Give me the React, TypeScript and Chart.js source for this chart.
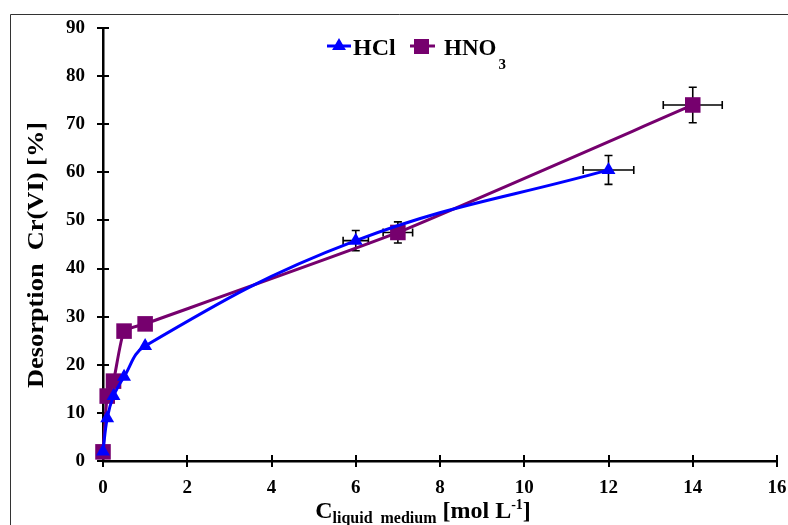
import React, { useEffect, useRef } from "react";
import { Chart, registerables } from "chart.js";

Chart.register(...registerables);

// ---- data ----
const xHCl = [0, 0.1, 0.25, 0.5, 1, 6, 12];
const yHCl = [2, 8.9, 13.5, 17.5, 23.9, 45.8, 60.5];
const xErrHCl = [0, 0, 0, 0, 0, 0.3, 0.6];
const yErrHCl = [0, 0, 0, 0, 0, 2.1, 3];

const xHNO3 = [0, 0.1, 0.25, 0.5, 1, 7, 14];
const yHNO3 = [1.9, 13.5, 16.6, 27, 28.5, 47.5, 74];
const xErrHNO3 = [0, 0, 0, 0, 0, 0.35, 0.7];
const yErrHNO3 = [0, 0, 0, 0, 0, 2.2, 3.7];

const xTicks = [0, 2, 4, 6, 8, 10, 12, 14, 16];
const yTicks = [0, 10, 20, 30, 40, 50, 60, 70, 80, 90];

const seriesNames = ["HCl", "HNO"];
const BLUE = "#0000FF";
const PURPLE = "#76006E";
const SERIF = '"Liberation Serif", "Times New Roman", serif';

const errSets = [
  { xe: xErrHCl, ye: yErrHCl },
  { xe: xErrHNO3, ye: yErrHNO3 },
];

const extras = {
  id: "extras",
  beforeDatasetsDraw(chart: any) {
    const ctx = chart.ctx;
    const xs = chart.scales.x;
    const ys = chart.scales.y;
    const area = chart.chartArea;
    ctx.save();
    // crossing tick marks
    ctx.strokeStyle = "#000";
    ctx.lineWidth = 2;
    ctx.beginPath();
    yTicks.forEach((v) => {
      const py = Math.round(ys.getPixelForValue(v));
      ctx.moveTo(area.left - 6, py);
      ctx.lineTo(area.left + 6, py);
    });
    xTicks.forEach((v) => {
      const px = Math.round(xs.getPixelForValue(v));
      ctx.moveTo(px, area.bottom - 6);
      ctx.lineTo(px, area.bottom + 6);
    });
    ctx.stroke();

    // error bars
    ctx.lineWidth = 1.6;
    chart.data.datasets.forEach((ds: any, di: number) => {
      const e = errSets[di];
      ds.data.forEach((p: any, i: number) => {
        const px = xs.getPixelForValue(p.x);
        const py = ys.getPixelForValue(p.y);
        const cap = 4;
        if (e.xe[i] > 0) {
          const l = xs.getPixelForValue(p.x - e.xe[i]);
          const r = xs.getPixelForValue(p.x + e.xe[i]);
          ctx.beginPath();
          ctx.moveTo(l, py);
          ctx.lineTo(r, py);
          ctx.moveTo(l, py - cap);
          ctx.lineTo(l, py + cap);
          ctx.moveTo(r, py - cap);
          ctx.lineTo(r, py + cap);
          ctx.stroke();
        }
        if (e.ye[i] > 0) {
          const t = ys.getPixelForValue(p.y + e.ye[i]);
          const b = ys.getPixelForValue(p.y - e.ye[i]);
          ctx.beginPath();
          ctx.moveTo(px, t);
          ctx.lineTo(px, b);
          ctx.moveTo(px - cap, t);
          ctx.lineTo(px + cap, t);
          ctx.moveTo(px - cap, b);
          ctx.lineTo(px + cap, b);
          ctx.stroke();
        }
      });
    });
    ctx.restore();
  },
  afterDraw(chart: any) {
    const ctx = chart.ctx;
    ctx.save();
    // outer frame (top and left edges)
    ctx.strokeStyle = "#333";
    ctx.lineWidth = 1;
    ctx.beginPath();
    ctx.moveTo(10.5, chart.height);
    ctx.lineTo(10.5, 14.5);
    ctx.lineTo(chart.width, 14.5);
    ctx.stroke();

    ctx.fillStyle = "#000";
    // y title (slightly stretched along its length, like the reference)
    ctx.save();
    ctx.translate(37, 255);
    ctx.rotate(-Math.PI / 2);
    ctx.scale(1.1, 1);
    ctx.font = `bold 24px ${SERIF}`;
    ctx.textAlign = "center";
    ctx.textBaseline = "middle";
    ctx.fillText("Desorption  Cr(VI) [%]", 0, 0);
    ctx.restore();

    // x title with subscript / superscript
    ctx.textBaseline = "alphabetic";
    ctx.textAlign = "left";
    const base = 518;
    const big = `bold 24px ${SERIF}`;
    const sub = `bold 16px ${SERIF}`;
    const sup = `bold 14px ${SERIF}`;
    const parts: [string, string, number][] = [
      ["C", big, 0],
      ["liquid  medium", sub, 5],
      [" [mol L", big, 0],
      ["-1", sup, -9],
      ["]", big, 0],
    ];
    let total = 0;
    parts.forEach(([t, f]) => {
      ctx.font = f;
      total += ctx.measureText(t).width;
    });
    let cx = 423 - total / 2;
    parts.forEach(([t, f, dy]) => {
      ctx.font = f;
      ctx.fillText(t, cx, base + dy);
      cx += ctx.measureText(t).width;
    });

    // legend
    const ly = 46;
    ctx.lineWidth = 3;
    ctx.strokeStyle = BLUE;
    ctx.beginPath();
    ctx.moveTo(327, ly);
    ctx.lineTo(351, ly);
    ctx.stroke();
    ctx.fillStyle = BLUE;
    ctx.beginPath();
    const tr = 8;
    ctx.moveTo(339, ly - tr);
    ctx.lineTo(339 + tr * 0.866, ly + tr * 0.5);
    ctx.lineTo(339 - tr * 0.866, ly + tr * 0.5);
    ctx.closePath();
    ctx.fill();
    ctx.fillStyle = "#000";
    ctx.font = `bold 24px ${SERIF}`;
    ctx.textBaseline = "alphabetic";
    ctx.fillText(seriesNames[0], 353, ly + 9);

    ctx.strokeStyle = PURPLE;
    ctx.beginPath();
    ctx.moveTo(410, ly);
    ctx.lineTo(435, ly);
    ctx.stroke();
    ctx.fillStyle = PURPLE;
    ctx.fillRect(414, ly - 7, 15, 15);
    ctx.fillStyle = "#000";
    ctx.font = `bold 23px ${SERIF}`;
    ctx.fillText(seriesNames[1], 444, ly + 9);
    const w = ctx.measureText(seriesNames[1]).width;
    ctx.font = `bold 15px ${SERIF}`;
    ctx.fillText("3", 444 + w + 2, ly + 23);
    ctx.restore();
  },
};

export default function App() {
  const ref = useRef<HTMLCanvasElement | null>(null);
  useEffect(() => {
    if (!ref.current) return;
    const tickFont = { family: SERIF, size: 19, weight: "bold" as const };
    const chart = new Chart(ref.current, {
      type: "line",
      data: {
        datasets: [
          {
            label: "HCl",
            data: xHCl.map((x, i) => ({ x, y: yHCl[i] })),
            borderColor: BLUE,
            backgroundColor: BLUE,
            borderWidth: 3,
            pointStyle: "triangle",
            pointRadius: 8,
            pointBorderWidth: 0,
            pointBackgroundColor: BLUE,
            tension: 0.4,
            fill: false,
            clip: false,
          },
          {
            label: "HNO3",
            data: xHNO3.map((x, i) => ({ x, y: yHNO3[i] })),
            borderColor: PURPLE,
            backgroundColor: PURPLE,
            borderWidth: 3,
            pointStyle: "rect",
            pointRadius: 11,
            pointBorderWidth: 0,
            pointBackgroundColor: PURPLE,
            tension: 0.15,
            fill: false,
            clip: false,
          },
        ],
      },
      options: {
        animation: false,
        responsive: false,
        layout: { padding: { top: 28, right: 11, left: 0, bottom: 0 } },
        plugins: { legend: { display: false }, tooltip: { enabled: false } },
        scales: {
          x: {
            type: "linear",
            min: 0,
            max: 16,
            afterFit: (s: any) => {
              s.height = 64;
              s.paddingLeft = 0;
              s.paddingRight = 0;
            },
            afterBuildTicks: (s: any) => {
              s.ticks = xTicks.map((v) => ({ value: v }));
            },
            ticks: { font: tickFont, color: "#000", padding: 8, maxRotation: 0 },
            grid: { display: false },
            border: { display: true, color: "#000", width: 2.5 },
          },
          y: {
            type: "linear",
            min: 0,
            max: 90,
            afterFit: (s: any) => {
              s.width = 103;
              s.paddingTop = 0;
              s.paddingBottom = 0;
            },
            afterBuildTicks: (s: any) => {
              s.ticks = yTicks.map((v) => ({ value: v }));
            },
            ticks: { font: tickFont, color: "#000", padding: 10 },
            grid: { display: false },
            border: { display: true, color: "#000", width: 2.5 },
          },
        },
      },
      plugins: [extras],
    });
    return () => chart.destroy();
  }, []);
  return (
    <div style={{ position: "fixed", left: 0, top: 0, width: 788, height: 525, background: "#fff" }}>
      <canvas ref={ref} width={788} height={525} style={{ display: "block" }} />
    </div>
  );
}
